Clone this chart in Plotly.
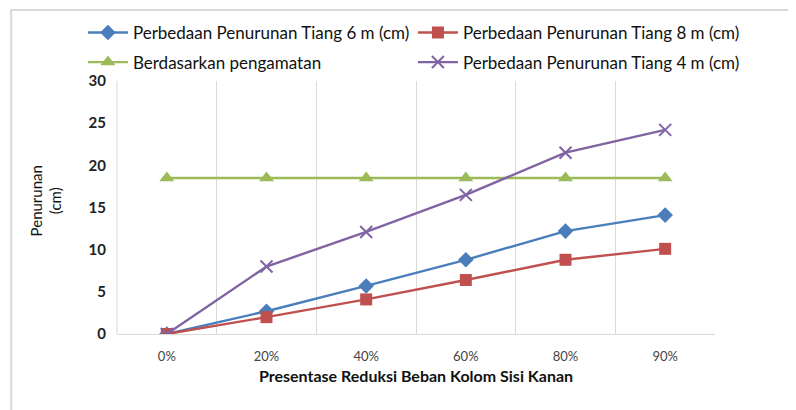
import plotly.graph_objects as go

categories = ["0%", "20%", "40%", "60%", "80%", "90%"]
tiang6 = [0, 2.7, 5.7, 8.8, 12.2, 14.1]
tiang8 = [0, 2.0, 4.1, 6.4, 8.8, 10.1]
pengamatan = [18.5, 18.5, 18.5, 18.5, 18.5, 18.5]
tiang4 = [0, 8.0, 12.1, 16.5, 21.5, 24.2]

names = [
    "Perbedaan Penurunan Tiang 6 m (cm)",
    "Perbedaan Penurunan Tiang 8 m (cm)",
    "Berdasarkan pengamatan",
    "Perbedaan Penurunan Tiang 4 m (cm)",
]

FONT = "Lato"

fig = go.Figure()
fig.add_trace(go.Scatter(x=categories, y=tiang6, name=names[0], mode="lines+markers",
                         legend="legend",
                         line=dict(color="#4A7EBB", width=2.4),
                         marker=dict(symbol="diamond", size=12, color="#4A7EBB")))
fig.add_trace(go.Scatter(x=categories, y=tiang8, name=names[1], mode="lines+markers",
                         legend="legend",
                         line=dict(color="#C0504D", width=2.4),
                         marker=dict(symbol="square", size=12, color="#C0504D")))
fig.add_trace(go.Scatter(x=categories, y=pengamatan, name=names[2], mode="lines+markers",
                         legend="legend2",
                         line=dict(color="#9BBB59", width=2.4),
                         marker=dict(symbol="triangle-up", size=13, color="#9BBB59")))
fig.add_trace(go.Scatter(x=categories, y=tiang4, name=names[3], mode="lines+markers",
                         legend="legend2",
                         line=dict(color="#8064A2", width=2.4),
                         marker=dict(symbol="x-thin", size=12, color="#8064A2",
                                     line=dict(color="#8064A2", width=2))))

leg_common = dict(orientation="h", xanchor="left", yanchor="middle",
                  entrywidth=275, entrywidthmode="pixels",
                  bgcolor="rgba(0,0,0,0)",
                  font=dict(family=FONT, size=17, color="#111111"),
                  itemwidth=40, traceorder="normal")

fig.update_layout(
    width=788, height=402,
    margin=dict(l=109, r=81, t=73, b=76, autoexpand=False),
    paper_bgcolor="white", plot_bgcolor="white",
    font=dict(family=FONT, color="#222222"),
    showlegend=True,
    legend=dict(x=-0.057, y=1.190, **leg_common),
    legend2=dict(x=-0.057, y=1.073, **leg_common),
    xaxis=dict(type="category", range=[-0.5, 5.5], tickson="boundaries",
               showgrid=True, gridcolor="#d9d9d9", gridwidth=1,
               showline=True, linecolor="#d9d9d9", linewidth=1,
               ticks="", ticklabelstandoff=10, tickfont=dict(size=13, color="#444444"),
               title=dict(text="Presentase Reduksi Beban Kolom Sisi Kanan",
                          font=dict(size=16, color="#111111", weight="bold"), standoff=8),
               zeroline=False, mirror=False),
    yaxis=dict(range=[0, 30], dtick=5, showgrid=False, zeroline=False,
               showline=False, ticks="", ticklabelstandoff=10,
               tickfont=dict(size=15, color="#222222", weight="bold")),
    annotations=[
        dict(text="Penurunan<br>(cm)", xref="paper", yref="paper",
             x=-0.1196, y=0.526, xanchor="center", yanchor="middle",
             textangle=-90, showarrow=False, align="center",
             font=dict(family=FONT, size=15, color="#111111")),
    ],
    shapes=[
        dict(type="rect", xref="paper", yref="paper",
             x0=-0.177, x1=1.3, y0=-0.5, y1=1.281,
             line=dict(color="#d9d9d9", width=2), fillcolor="rgba(0,0,0,0)", layer="below"),
        dict(type="line", xref="paper", yref="paper", x0=0, x1=0, y0=0, y1=1,
             line=dict(color="#d9d9d9", width=1)),
    ],
)

fig.write_html("out.html")
